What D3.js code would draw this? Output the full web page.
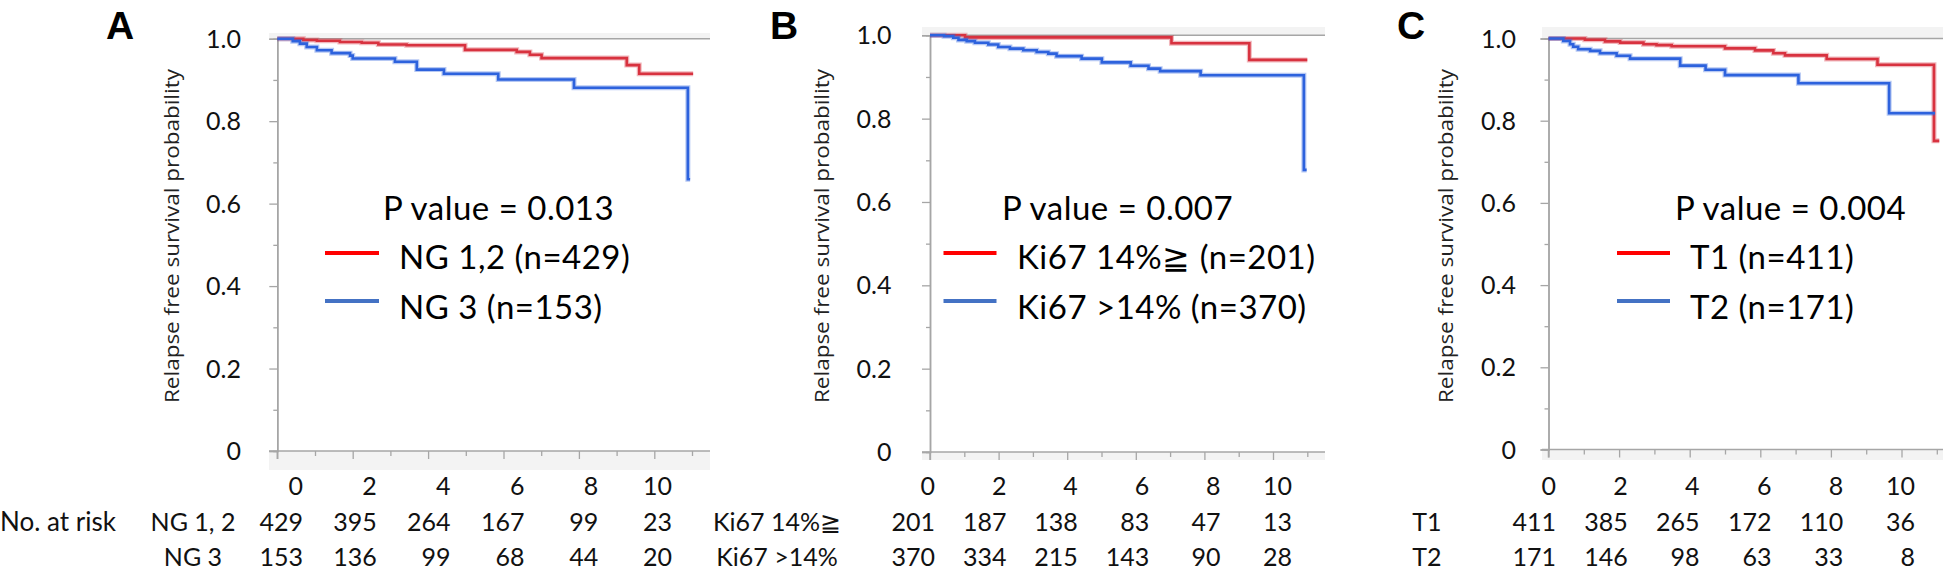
<!DOCTYPE html>
<html><head><meta charset="utf-8">
<script src="https://cdn.jsdelivr.net/npm/d3@7"></script>
<style>
html,body{margin:0;padding:0;background:#fff;}
svg{display:block;}
</style></head>
<body>
<svg id="chart" width="1946" height="570"></svg>
<script>
// ---------------- DATA ----------------
const panelLetters = ["A", "B", "C"];
const pValues = ["0.013", "0.007", "0.004"];
const legendRed = ["NG 1,2 (n=429)", "Ki67 14%\u2267 (n=201)", "T1 (n=411)"];
const legendBlue = ["NG 3 (n=153)", "Ki67 >14% (n=370)", "T2 (n=171)"];
const riskLabelRed = ["NG 1, 2", "Ki67 14%\u2267", "T1"];
const riskLabelBlue = ["NG 3", "Ki67 >14%", "T2"];
const yAxisTitle = "Relapse free survival probability";
const riskTitle = "No. at risk";
const yTickValues = [0, 0.2, 0.4, 0.6, 0.8, 1.0];
const yTickLabels = ["0", "0.2", "0.4", "0.6", "0.8", "1.0"];
const yMinorTicks = [0.1, 0.3, 0.5, 0.7, 0.9];
const xTickValues = [0, 2, 4, 6, 8, 10];
const xTickLabels = ["0", "2", "4", "6", "8", "10"];
const xMinorTicks = [1, 3, 5, 7, 9, 11];

// numbers at risk
const riskA_red = [429, 395, 264, 167, 99, 23];
const riskA_blue = [153, 136, 99, 68, 44, 20];
const riskB_red = [201, 187, 138, 83, 47, 13];
const riskB_blue = [370, 334, 215, 143, 90, 28];
const riskC_red = [411, 385, 265, 172, 110, 36];
const riskC_blue = [171, 146, 98, 63, 33, 8];

// Kaplan-Meier step curves (years, survival)
const kmA_red_t = [0, 0.69, 1.05, 1.66, 2.24, 2.68, 3.43, 4.98, 6.35, 6.70, 7.01, 9.27, 9.60, 11.03];
const kmA_red_s = [1, 0.997, 0.995, 0.992, 0.990, 0.986, 0.984, 0.973, 0.968, 0.961, 0.953, 0.936, 0.915, 0.915];
const kmA_blue_t = [0, 0.41, 0.60, 0.78, 1.05, 1.44, 1.93, 2.0, 3.12, 3.70, 4.42, 5.86, 7.87, 10.89, 10.95];
const kmA_blue_s = [1, 0.994, 0.988, 0.980, 0.972, 0.965, 0.959, 0.952, 0.944, 0.925, 0.915, 0.901, 0.881, 0.659, 0.659];

const kmB_red_t = [0, 1.02, 7.04, 9.31, 11.0];
const kmB_red_s = [1, 0.995, 0.981, 0.941, 0.941];
const kmB_blue_t = [0, 0.41, 0.68, 0.83, 1.07, 1.31, 1.70, 1.99, 2.33, 2.72, 3.11, 3.45, 3.69, 4.42, 5.01, 5.85, 6.37, 6.71, 7.89, 10.90, 10.98];
const kmB_blue_s = [1, 0.998, 0.994, 0.989, 0.986, 0.982, 0.978, 0.972, 0.968, 0.964, 0.960, 0.956, 0.950, 0.944, 0.935, 0.927, 0.920, 0.914, 0.904, 0.677, 0.677];

const kmC_red_t = [0, 1.03, 1.60, 2.03, 2.69, 3.06, 3.49, 5.0, 5.85, 6.37, 6.70, 7.88, 9.32, 10.92, 11.07];
const kmC_red_s = [1, 0.997, 0.993, 0.990, 0.986, 0.984, 0.981, 0.976, 0.971, 0.964, 0.959, 0.950, 0.936, 0.751, 0.751];
const kmC_blue_t = [0, 0.42, 0.61, 0.70, 0.84, 1.18, 1.46, 1.93, 2.31, 3.73, 4.45, 5.0, 7.08, 9.65, 10.95];
const kmC_blue_s = [1, 0.994, 0.986, 0.980, 0.974, 0.970, 0.964, 0.958, 0.951, 0.934, 0.924, 0.911, 0.891, 0.818, 0.818];

// ---------------- LAYOUT ----------------
const layout = [
  { x0: 277.3, x10: 654.3, y0: 451, y1: 38.7, left: 269, right: 710, topBand: 33, botBand: 470,
    tickRight: 241, titleX: 172, letterX: 106, legLine: [325, 379], legText: 399, pX: 383,
    tab0: 303, tab10: 672, rowLabelX: 193,
    red: [kmA_red_t, kmA_red_s], blue: [kmA_blue_t, kmA_blue_s], riskR: riskA_red, riskB: riskA_blue },
  { x0: 930, x10: 1273, y0: 452, y1: 35.3, left: 922, right: 1325, topBand: 27, botBand: 460,
    tickRight: 891.5, titleX: 822, letterX: 770, legLine: [943.5, 996.5], legText: 1017, pX: 1002,
    tab0: 935, tab10: 1292, rowLabelX: 777,
    red: [kmB_red_t, kmB_red_s], blue: [kmB_blue_t, kmB_blue_s], riskR: riskB_red, riskB: riskB_blue },
  { x0: 1548.5, x10: 1901.5, y0: 449.5, y1: 38.5, left: 1542, right: 1943, topBand: 27, botBand: 460,
    tickRight: 1516, titleX: 1446, letterX: 1397, legLine: [1617, 1670], legText: 1690, pX: 1675,
    tab0: 1556, tab10: 1915, rowLabelX: 1427,
    red: [kmC_red_t, kmC_red_s], blue: [kmC_blue_t, kmC_blue_s], riskR: riskC_red, riskB: riskC_blue }
];

const curveRed = "#d8323f", curveBlue = "#2d62dd";
const legRed = "#ff0000", legBlue = "#4472c4";
const axisGray = "#a6a6a6", bandGray = "#f3f3f3";
const numFont = "Lato, 'Open Sans', sans-serif";

const svg = d3.select("#chart");

layout.forEach((L, i) => {
  const g = svg.append("g");
  const x = d3.scaleLinear().domain([0, 10]).range([L.x0, L.x10]);
  const y = d3.scaleLinear().domain([0, 1]).range([L.y0, L.y1]);
  const xt = d3.scaleLinear().domain([0, 10]).range([L.tab0, L.tab10]);

  // light gray chart-area bands
  g.append("rect").attr("x", L.left).attr("y", L.topBand).attr("width", L.right - L.left)
    .attr("height", y(1) - L.topBand).attr("fill", bandGray);
  g.append("rect").attr("x", L.left).attr("y", y(0)).attr("width", L.right - L.left)
    .attr("height", L.botBand - y(0)).attr("fill", bandGray);

  // top reference line at 1.0
  g.append("line").attr("x1", x(0)).attr("x2", L.right).attr("y1", y(1)).attr("y2", y(1))
    .attr("stroke", axisGray).attr("stroke-width", 1.5);

  // y axis
  const yMaj = g.append("g").attr("transform", `translate(${x(0)},0)`)
    .call(d3.axisLeft(y).tickValues(yTickValues).tickSize(8).tickFormat(""));
  const yMin = g.append("g").attr("transform", `translate(${x(0)},0)`)
    .call(d3.axisLeft(y).tickValues(yMinorTicks).tickSize(4).tickFormat(""));
  [yMaj, yMin].forEach(a => {
    a.select(".domain").attr("stroke", axisGray).attr("stroke-width", 1.5);
    a.selectAll(".tick line").attr("stroke", axisGray).attr("stroke-width", 1.3);
  });
  g.append("line").attr("x1", x(0)).attr("x2", x(0)).attr("y1", y(0)).attr("y2", y(0) + 8)
    .attr("stroke", axisGray).attr("stroke-width", 1.5);

  // x axis
  const xMaj = g.append("g").attr("transform", `translate(0,${y(0)})`)
    .call(d3.axisBottom(x).tickValues(xTickValues).tickSize(8).tickFormat(""));
  const xMin = g.append("g").attr("transform", `translate(0,${y(0)})`)
    .call(d3.axisBottom(x).tickValues(xMinorTicks.filter(v => x(v) < L.right)).tickSize(5).tickFormat(""));
  [xMaj, xMin].forEach(a => {
    a.select(".domain").remove();
    a.selectAll(".tick line").attr("stroke", axisGray).attr("stroke-width", 1.3);
  });
  g.append("line").attr("x1", L.left).attr("x2", L.right).attr("y1", y(0)).attr("y2", y(0))
    .attr("stroke", axisGray).attr("stroke-width", 1.5);

  // y tick labels
  g.selectAll("text.ytl").data(yTickValues).enter().append("text")
    .attr("x", L.tickRight).attr("y", d => y(d)).attr("dy", "0.36em")
    .attr("text-anchor", "end").attr("font-family", numFont).attr("font-size", 25)
    .attr("fill", "#111").text((d, k) => yTickLabels[k]);

  // y title
  g.append("text").attr("transform", `translate(${L.titleX},236) rotate(-90)`)
    .attr("text-anchor", "middle").attr("dy", "0.35em")
    .attr("font-family", "'Open Sans', 'DejaVu Sans', sans-serif").attr("font-size", 20.5)
    .attr("textLength", 334).attr("lengthAdjust", "spacingAndGlyphs")
    .attr("fill", "#222").text(yAxisTitle);

  // panel letter
  g.append("text").attr("x", L.letterX).attr("y", 38.5)
    .attr("font-family", "'Liberation Sans', Arial, sans-serif").attr("font-weight", "bold")
    .attr("font-size", 39).attr("fill", "#000").text(panelLetters[i]);

  // KM curves
  const line = d3.line().x(d => x(d[0])).y(d => y(d[1])).curve(d3.curveStepAfter);
  [[L.red, curveRed], [L.blue, curveBlue]].forEach(([c, col]) => {
    const pts = c[0].map((t, k) => [t, c[1][k]]);
    g.append("path").attr("d", line(pts)).attr("fill", "none").attr("stroke", col)
      .attr("stroke-opacity", 0.35).attr("stroke-width", 5);
    g.append("path").attr("d", line(pts)).attr("fill", "none").attr("stroke", col)
      .attr("stroke-width", 2.6);
  });

  // P value & legend
  const bigText = (tx, ty, str) => g.append("text").attr("x", tx).attr("y", ty)
    .attr("font-family", numFont).attr("font-size", 33).attr("letter-spacing", 0.5)
    .attr("fill", "#000").text(str);
  bigText(L.pX, 220, "P value = " + pValues[i]);
  g.append("line").attr("x1", L.legLine[0]).attr("x2", L.legLine[1]).attr("y1", 253).attr("y2", 253)
    .attr("stroke", legRed).attr("stroke-width", 4);
  g.append("line").attr("x1", L.legLine[0]).attr("x2", L.legLine[1]).attr("y1", 301).attr("y2", 301)
    .attr("stroke", legBlue).attr("stroke-width", 4);
  bigText(L.legText, 269, legendRed[i]);
  bigText(L.legText, 319, legendBlue[i]);

  // risk table: x labels, rows
  const rows = [[xTickLabels, 486], [L.riskR.map(String), 522], [L.riskB.map(String), 557]];
  rows.forEach(([vals, yy]) => {
    g.selectAll(null).data(vals).enter().append("text")
      .attr("x", (d, k) => xt(xTickValues[k])).attr("y", yy).attr("dy", "0.36em")
      .attr("text-anchor", "end").attr("font-family", numFont).attr("font-size", 25)
      .attr("fill", "#111").text(d => d);
  });
  g.append("text").attr("x", L.rowLabelX).attr("y", 522).attr("dy", "0.36em")
    .attr("text-anchor", "middle").attr("font-family", numFont).attr("font-size", 25)
    .attr("fill", "#111").text(riskLabelRed[i]);
  g.append("text").attr("x", L.rowLabelX).attr("y", 557).attr("dy", "0.36em")
    .attr("text-anchor", "middle").attr("font-family", numFont).attr("font-size", 25)
    .attr("fill", "#111").text(riskLabelBlue[i]);
});

svg.append("text").attr("x", 0).attr("y", 522).attr("dy", "0.36em")
  .attr("font-family", numFont).attr("font-size", 26).attr("fill", "#111").text(riskTitle);
</script>
</body></html>
